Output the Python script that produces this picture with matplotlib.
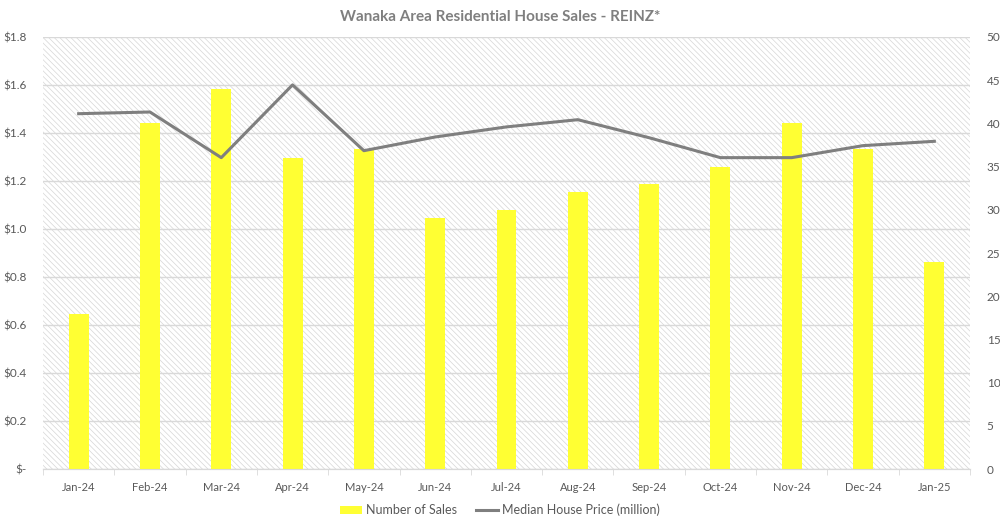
import numpy as np
import matplotlib.pyplot as plt
from matplotlib.patches import Rectangle, Patch
from matplotlib.lines import Line2D

plt.rcParams['font.family'] = ['Lato', 'DejaVu Sans']
plt.rcParams['hatch.linewidth'] = 0.5

months = ['Jan-24', 'Feb-24', 'Mar-24', 'Apr-24', 'May-24', 'Jun-24', 'Jul-24',
          'Aug-24', 'Sep-24', 'Oct-24', 'Nov-24', 'Dec-24', 'Jan-25']
sales = [18, 40, 44, 36, 37, 29, 30, 32, 33, 35, 40, 37, 24]
price = [1.48, 1.487, 1.297, 1.60, 1.326, 1.383, 1.425, 1.455, 1.38, 1.297, 1.297, 1.347, 1.365]
price_ticks = [0, 0.2, 0.4, 0.6, 0.8, 1.0, 1.2, 1.4, 1.6, 1.8]
price_labels = ['$-', '$0.2', '$0.4', '$0.6', '$0.8', '$1.0', '$1.2', '$1.4', '$1.6', '$1.8']
sales_ticks = list(range(0, 55, 5))

txt = '#595959'
x = np.arange(len(months))

fig = plt.figure(figsize=(10, 5.26), dpi=100)
ax = fig.add_axes([0.043, 0.108, 0.927, 0.822])
ax2 = ax.twinx()

# hatched plot background
ax.add_patch(Rectangle((0, 0), 1, 1, transform=ax.transAxes, facecolor='white',
                       edgecolor='#d6d6d6', hatch='\\\\\\\\\\\\', linewidth=0, zorder=0))
ax.set_ylim(0, 1.8)
ax.set_yticks(price_ticks)
ax.set_yticklabels(price_labels)
ax.grid(axis='y', color='#d9d9d9', linewidth=1)
ax.set_axisbelow(True)

ax2.bar(x, sales, width=0.28, color='#FFFF33', zorder=2)
ax2.plot(x, price, color='#7f7f7f', linewidth=2.2, transform=ax.transData, zorder=3)
ax2.set_ylim(0, 50)
ax2.set_yticks(sales_ticks)

ax.set_xlim(-0.5, len(months) - 0.5)
ax.set_xticks(x)
ax.set_xticklabels(months)
ax.set_xticks(np.arange(-0.5, len(months), 1), minor=True)
ax.tick_params(axis='x', which='major', length=0, pad=9, colors=txt, labelsize=8)
ax.tick_params(axis='x', which='minor', length=4, color='#d9d9d9')
ax.tick_params(axis='y', length=0, colors=txt, labelsize=8.5, pad=12)
ax2.tick_params(axis='y', length=0, colors=txt, labelsize=8.5, pad=12)

for a in (ax, ax2):
    for s in ['top', 'left', 'right']:
        a.spines[s].set_visible(False)
    a.spines['bottom'].set_color('#d9d9d9')

fig.text(0.5, 0.968, 'Wanaka Area Residential House Sales - REINZ*', ha='center', va='center',
         fontsize=11, fontweight='bold', color='#7f7f7f')

handles = [Patch(facecolor='#FFFF33', label='Number of Sales'),
           Line2D([0], [0], color='#7f7f7f', linewidth=2.2, label='Median House Price (million)')]
fig.legend(handles=handles, loc='center', bbox_to_anchor=(0.5, 0.03), ncol=2, frameon=False,
           fontsize=9, labelcolor=txt, handlelength=1.8, handletextpad=0.3, columnspacing=1.5)

fig.savefig('out.png', dpi=100)
